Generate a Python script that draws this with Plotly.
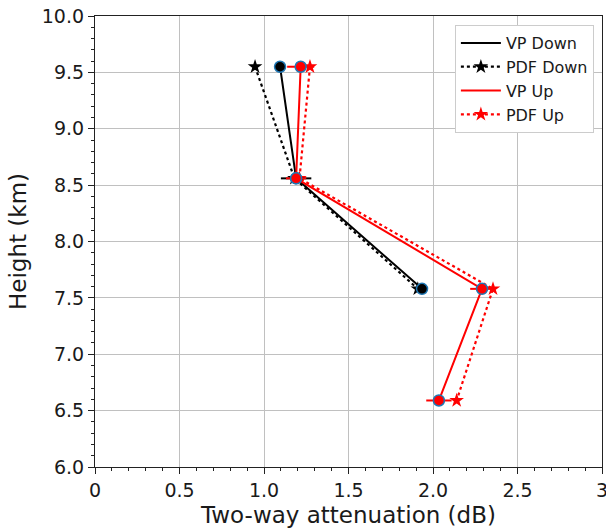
import plotly.graph_objects as go

heights = [9.55, 8.56, 7.58, 6.59]
heights_down = [9.55, 8.56, 7.58]

vp_down = [1.095, 1.19, 1.935]
vp_down_err = [0.03, 0.09, 0.02]
pdf_down = [0.947, 1.18, 1.91]

vp_up = [1.217, 1.19, 2.29, 2.035]
vp_up_err = [0.08, 0.06, 0.07, 0.075]
pdf_up = [1.272, 1.21, 2.355, 2.14]

FONT = "DejaVu Sans"
TXT = "#1a1a1a"

fig = go.Figure()

fig.add_trace(go.Scatter(
    x=pdf_down, y=heights_down, mode="lines+markers", name="PDF Down",
    line=dict(color="black", width=2.2, dash="dot"),
    marker=dict(symbol="star", size=11, color="black"),
    legendrank=2))
fig.add_trace(go.Scatter(
    x=pdf_up, y=heights, mode="lines+markers", name="PDF Up",
    line=dict(color="red", width=2.2, dash="dot"),
    marker=dict(symbol="star", size=11, color="red"),
    legendrank=4))
fig.add_trace(go.Scatter(
    x=vp_down, y=heights_down, mode="lines+markers", name="VP Down",
    line=dict(color="black", width=2),
    marker=dict(symbol="circle", size=11, color="black",
                line=dict(color="#1f77b4", width=1.5)),
    error_x=dict(type="data", array=vp_down_err, color="black", thickness=2, width=0),
    showlegend=False))
fig.add_trace(go.Scatter(
    x=vp_up, y=heights, mode="lines+markers", name="VP Up",
    line=dict(color="red", width=2),
    marker=dict(symbol="circle", size=11, color="red",
                line=dict(color="#1f77b4", width=1.5)),
    error_x=dict(type="data", array=vp_up_err, color="red", thickness=2, width=0),
    showlegend=False))

# legend-only entries for the VP lines (line without marker)
fig.add_trace(go.Scatter(x=[None], y=[None], mode="lines", name="VP Down",
                         line=dict(color="black", width=2), legendrank=1))
fig.add_trace(go.Scatter(x=[None], y=[None], mode="lines", name="VP Up",
                         line=dict(color="red", width=2), legendrank=3))

axis_common = dict(
    showgrid=True, gridcolor="#c0c0c0", gridwidth=1,
    showline=True, linecolor="#222", linewidth=1.2, mirror=True,
    ticks="outside", ticklen=6, tickcolor="#222", tickwidth=1,
    tickfont=dict(family=FONT, size=19, color=TXT),
    zeroline=False, automargin=False, ticklabeloverflow="allow",
    minor=dict(ticks="outside", ticklen=3, tickcolor="#222", showgrid=False),
)

fig.update_xaxes(range=[0, 3], tickvals=[0, 0.5, 1.0, 1.5, 2.0, 2.5, 3],
                 ticktext=["0", "0.5", "1.0", "1.5", "2.0", "2.5", "3"],
                 title=dict(text="Two-way attenuation (dB)",
                            font=dict(family=FONT, size=23, color=TXT),
                            standoff=6),
                 **axis_common)
fig.update_xaxes(minor=dict(dtick=0.1))
fig.update_yaxes(range=[6, 10], dtick=0.5, tickformat=".1f",
                 title=dict(text="Height (km)",
                            font=dict(family=FONT, size=23, color=TXT),
                            standoff=8),
                 **axis_common)
fig.update_yaxes(minor=dict(dtick=0.1))

fig.update_layout(
    width=606, height=530,
    margin=dict(l=95, r=4, t=16, b=63),
    plot_bgcolor="white", paper_bgcolor="white",
    font=dict(family=FONT, color=TXT),
    legend=dict(x=0.984, y=0.98, xanchor="right", yanchor="top",
                bgcolor="white", bordercolor="#cccccc", borderwidth=1,
                font=dict(size=16, family=FONT, color=TXT),
                tracegroupgap=0, itemwidth=40),
    showlegend=True,
)

fig.write_html("out.html", config={"displayModeBar": False},
               post_script="document.body.style.margin='0';")
